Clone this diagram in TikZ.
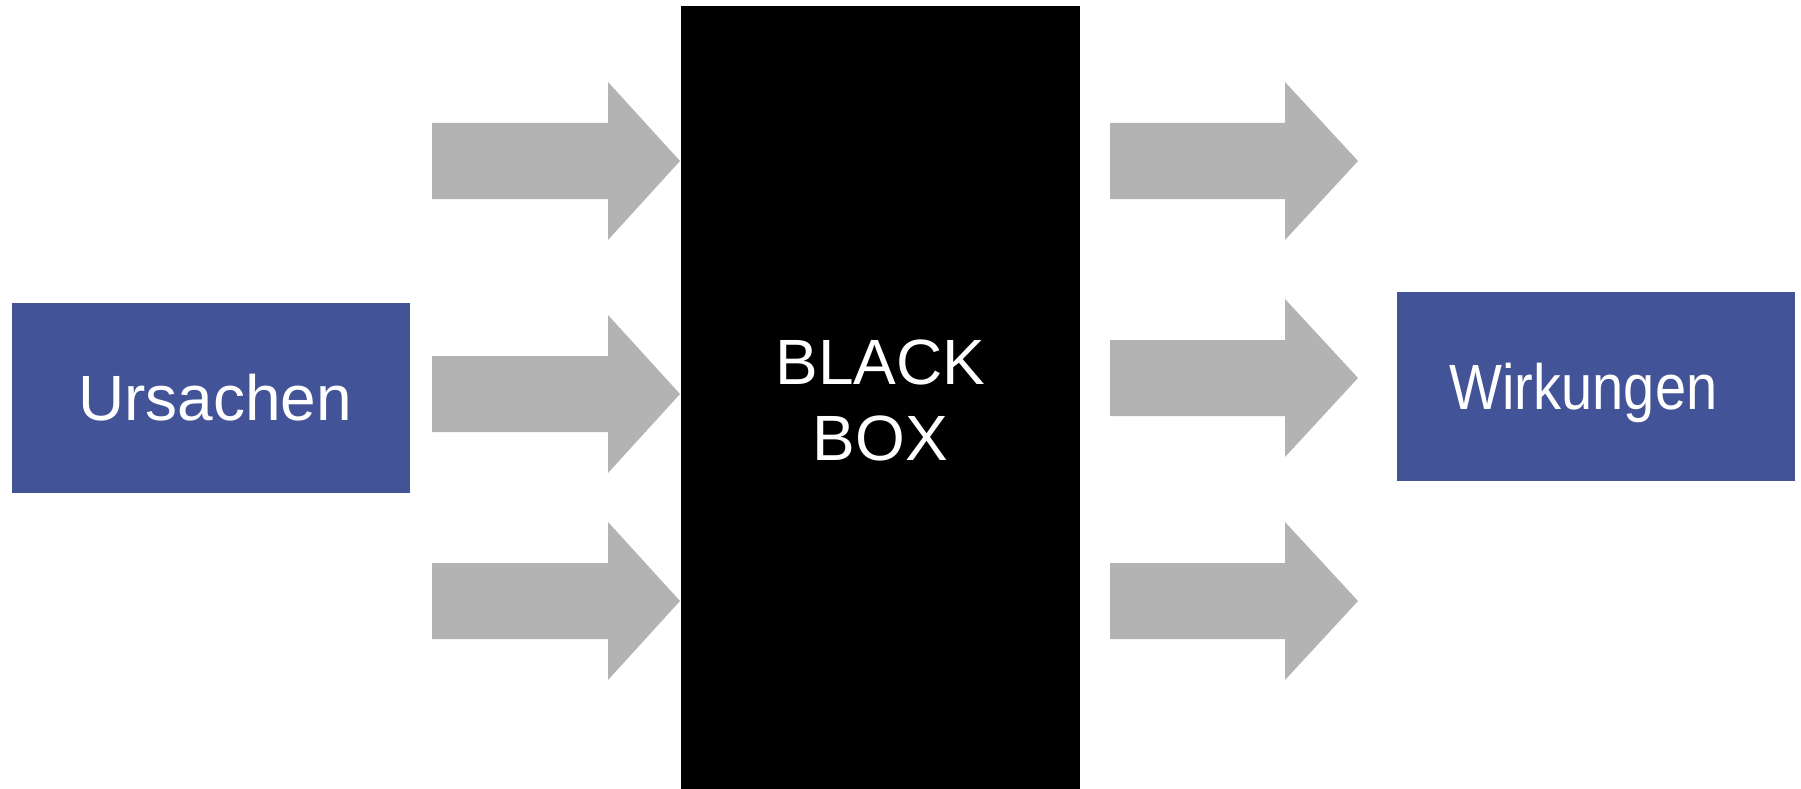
\documentclass[tikz,border=0pt]{standalone}
\usepackage{fontspec}
\setmainfont{Liberation Sans}
\usetikzlibrary{positioning}

\definecolor{boxblue}{RGB}{67,83,152}
\definecolor{flowgray}{RGB}{179,179,179}

\begin{document}
\begin{tikzpicture}[
    x=0.01cm,
    y=-0.01cm,
    every node/.style={
        inner sep=0pt,
        text=white,
        font=\fontsize{18.2}{21.6}\selectfont
    },
    causebox/.style={
        fill=boxblue,
        minimum width=3.985cm,
        minimum height=1.9cm
    },
    blackbox/.style={
        fill=black,
        minimum width=3.99cm,
        minimum height=7.88cm,
        align=center
    },
    flow/.style={
        fill=flowgray
    }
]
\useasboundingbox (0,0) rectangle (1801,788);

% boxes
\node[causebox] (cause) at (211,398) {\kern0.08cm Ursachen};
\node[blackbox] (box) at (880.5,400) {BLACK\\BOX};
\node[causebox, minimum height=1.89cm] (effect) at (1596,386.5)
    {\raisebox{0pt}[\height][0pt]{\scalebox{0.875}[1]{Wirkungen}}\kern0.25cm};

% inputs
\foreach \y [count=\i] in {161,394,601} {
    \coordinate (in\i) at (432,\y);
    \fill[flow] (in\i) ++(0,-38) -- ++(176,0) -- ++(0,-41) -- ++(72,79)
        -- ++(-72,79) -- ++(0,-41) -- ++(-176,0) -- cycle;
}

% outputs
\foreach \y [count=\i] in {161,378,601} {
    \coordinate (out\i) at (1110,\y);
    \fill[flow] (out\i) ++(0,-38) -- ++(175,0) -- ++(0,-41) -- ++(73,79)
        -- ++(-73,79) -- ++(0,-41) -- ++(-175,0) -- cycle;
}
\end{tikzpicture}
\end{document}
